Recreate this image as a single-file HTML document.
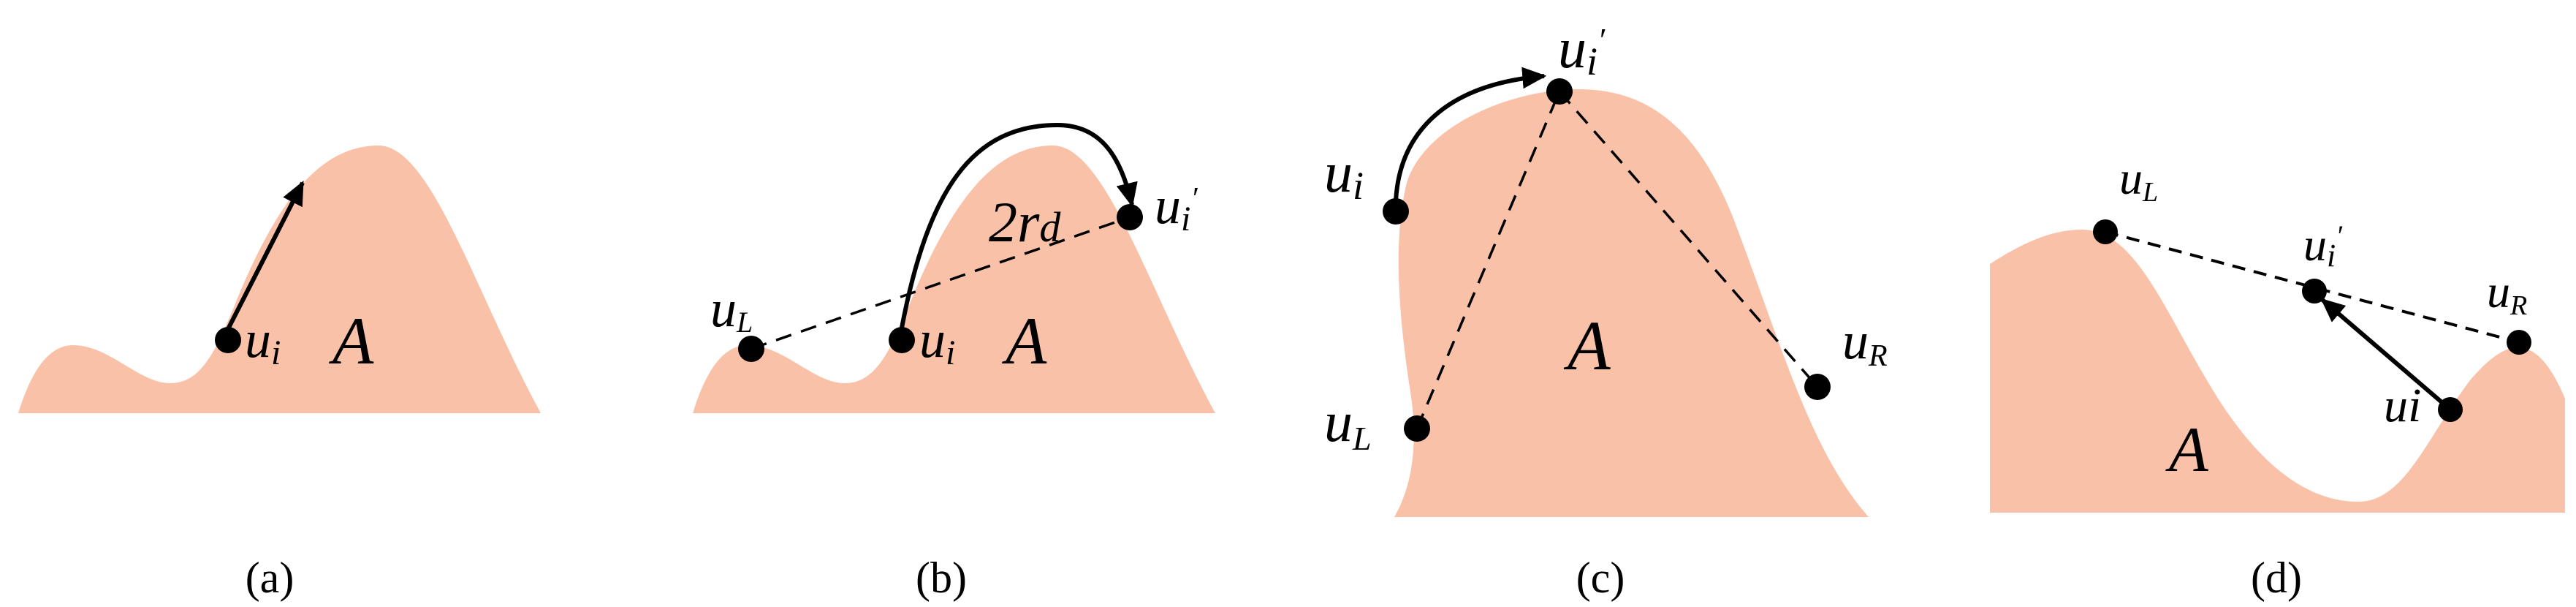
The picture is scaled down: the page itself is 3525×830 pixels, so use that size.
<!DOCTYPE html>
<html><head><meta charset="utf-8"><style>
html,body{margin:0;padding:0;background:#fff;}
svg{display:block;}
text{font-family:"Liberation Serif",serif;font-style:italic;fill:#000;}
.cap{font-style:normal;}
</style></head><body>
<svg width="3525" height="830" viewBox="0 0 3525 830" xmlns="http://www.w3.org/2000/svg">
<defs>
<marker id="ah" viewBox="0 0 10 10" refX="9" refY="5" markerWidth="5.5" markerHeight="5.5" orient="auto" markerUnits="strokeWidth">
<path d="M0,0.5 L10,5 L0,9.5 Z" fill="#000"/></marker>
</defs>
<g fill="#F9C1A8">
<!-- (a) -->
<path d="M25,565 C45,500 70,472 100,472 C150,472 190,524 233,524 C275,524 295,480 320,420 C380,270 440,199 518,199 C590,199 650,400 740,565 Z"/>
<!-- (b) -->
<path d="M948,565 C968,500 993,472 1023,472 C1073,472 1113,524 1156,524 C1198,524 1218,480 1243,420 C1303,270 1363,199 1441,199 C1513,199 1573,400 1663,565 Z"/>
<!-- (c) -->
<path d="M1908,707 C1935,660 1940,600 1930,536 C1915,440 1905,330 1925,250 C1950,170 2070,122 2160,122 C2260,122 2330,180 2380,320 C2440,480 2480,620 2557,707 Z"/>
<!-- (d) -->
<path d="M2723,361 C2770,330 2810,314 2849,314 C2920,314 2960,420 3020,520 C3090,640 3160,686 3227,686 C3290,686 3320,600 3380,520 C3410,485 3430,475 3445,475 C3475,475 3495,510 3510,545 L3510,701 L2723,701 Z"/>
</g>
<g stroke="#000" stroke-width="6" fill="none">
<line x1="312" y1="450" x2="414" y2="250" marker-end="url(#ah)"/>
<line x1="1028" y1="477" x2="1546" y2="297" stroke-width="3.5" stroke-dasharray="22,14"/>
<path d="M1234,448 C1270,260 1330,171 1447,171 C1510,171 1535,220 1549,280" marker-end="url(#ah)"/>
<line x1="1939" y1="586" x2="2134" y2="125" stroke-width="3.5" stroke-dasharray="22,14"/>
<line x1="2134" y1="125" x2="2487" y2="529" stroke-width="3.5" stroke-dasharray="22,14"/>
<path d="M1910,275 C1915,180 1980,115 2113,104" marker-end="url(#ah)"/>
<line x1="2881" y1="317" x2="3447" y2="468" stroke-width="4" stroke-dasharray="18,12"/>
<line x1="3353" y1="560" x2="3178" y2="410" marker-end="url(#ah)"/>
</g>
<g fill="#000">
<circle cx="312" cy="465" r="18"/>
<circle cx="1028" cy="477" r="18"/>
<circle cx="1234" cy="465" r="18"/>
<circle cx="1546" cy="297" r="18"/>
<circle cx="1910" cy="289" r="18"/>
<circle cx="2134" cy="125" r="18"/>
<circle cx="1939" cy="586" r="18"/>
<circle cx="2487" cy="529" r="18"/>
<circle cx="2881" cy="317" r="17"/>
<circle cx="3167" cy="398" r="17"/>
<circle cx="3447" cy="468" r="17"/>
<circle cx="3353" cy="560" r="17"/>
</g>
<g font-size="72">
<text x="335" y="488">u<tspan font-size="48" dy="10">i</tspan></text>
<text x="455" y="497" font-size="92">A</text>
<text x="972" y="446">u<tspan font-size="40" dy="8">L</tspan></text>
<text x="1258" y="488">u<tspan font-size="48" dy="10">i</tspan></text>
<text x="1376" y="497" font-size="92">A</text>
<text x="1353" y="330" font-size="78">2r<tspan font-size="58">d</tspan></text>
<text x="1580" y="305">u<tspan font-size="48" dy="10">i</tspan><tspan font-size="42" dy="-30">′</tspan></text>
<text x="2132" y="92" font-size="78">u<tspan font-size="54" dy="10">i</tspan><tspan font-size="46" dy="-32">′</tspan></text>
<text x="1812" y="262" font-size="78">u<tspan font-size="54" dy="10">i</tspan></text>
<text x="1812" y="603" font-size="78">u<tspan font-size="46" dy="12">L</tspan></text>
<text x="2521" y="490" font-size="72">u<tspan font-size="42" dy="10">R</tspan></text>
<text x="2145" y="505" font-size="96">A</text>
<text x="2900" y="265" font-size="64">u<tspan font-size="38" dy="10">L</tspan></text>
<text x="3152" y="356" font-size="64">u<tspan font-size="44" dy="8">i</tspan><tspan font-size="40" dy="-28">′</tspan></text>
<text x="3403" y="420" font-size="64">u<tspan font-size="38" dy="10">R</tspan></text>
<text x="3262" y="576" font-size="66">ui</text>
<text x="2968" y="644" font-size="88">A</text>
</g>
<g font-size="60" text-anchor="middle">
<text class="cap" x="369" y="810">(a)</text>
<text class="cap" x="1288" y="810">(b)</text>
<text class="cap" x="2190" y="810">(c)</text>
<text class="cap" x="3115" y="810">(d)</text>
</g>
</svg>
</body></html>
